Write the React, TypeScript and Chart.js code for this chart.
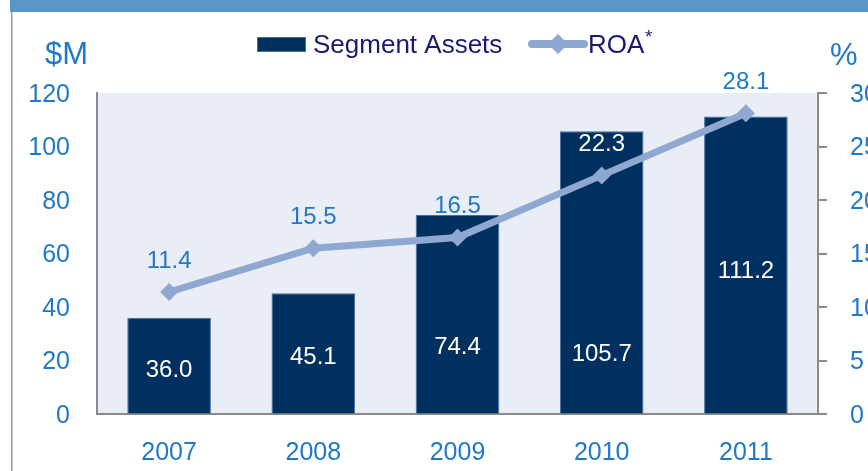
import React, { useEffect, useRef } from "react";
import { Chart, registerables } from "chart.js";

Chart.register(...registerables);

const categories = ["2007", "2008", "2009", "2010", "2011"];
const segmentAssets = [36.0, 45.1, 74.4, 105.7, 111.2];
const roa = [11.4, 15.5, 16.5, 22.3, 28.1];
const leftTicks = [0, 20, 40, 60, 80, 100, 120];
const rightTicks = [0, 5, 10, 15, 20, 25, 30];
// where each bar's value label sits, in $M axis units
const barLabelAnchors = [17, 22, 25.5, 23, 54];

const FONT = "'Liberation Sans', Arial, sans-serif";
const BLUE_TEXT = "#1f78c8";
const NAVY = "#00305f";
const LINE = "#8ea8d2";

const decorPlugin = {
  id: "decor",
  beforeDraw(chart: any) {
    const { ctx, chartArea } = chart;
    ctx.save();
    ctx.fillStyle = "#5a96c6";
    ctx.fillRect(10, 0, chart.width, 12);
    ctx.fillStyle = "#9a9a9a";
    ctx.fillRect(11, 12, 1.5, chart.height);
    ctx.fillStyle = "#e9edf5";
    ctx.fillRect(chartArea.left, chartArea.top, chartArea.right - chartArea.left, chartArea.bottom - chartArea.top);
    ctx.restore();
  },
  afterDraw(chart: any) {
    const { ctx } = chart;
    ctx.save();
    ctx.fillStyle = BLUE_TEXT;
    ctx.font = `31px ${FONT}`;
    ctx.textBaseline = "alphabetic";
    ctx.textAlign = "left";
    ctx.fillText("$M", 45, 64);
    ctx.fillText("%", 830, 65);

    // legend
    ctx.fillStyle = NAVY;
    ctx.fillRect(257, 37, 49, 15);
    ctx.strokeStyle = "#4a6d9a";
    ctx.lineWidth = 1;
    ctx.strokeRect(257.5, 37.5, 48, 14);
    ctx.fillStyle = "#1a1a6e";
    ctx.font = `26px ${FONT}`;
    ctx.textBaseline = "middle";
    ctx.fillText("Segment Assets", 313, 46);
    ctx.strokeStyle = LINE;
    ctx.lineWidth = 8;
    ctx.lineCap = "round";
    ctx.beginPath();
    ctx.moveTo(532, 44);
    ctx.lineTo(584, 44);
    ctx.stroke();
    ctx.fillStyle = LINE;
    ctx.beginPath();
    ctx.moveTo(558, 34);
    ctx.lineTo(568, 44);
    ctx.lineTo(558, 54);
    ctx.lineTo(548, 44);
    ctx.closePath();
    ctx.fill();
    ctx.fillStyle = "#1a1a6e";
    ctx.fillText("ROA", 588, 46);
    ctx.font = `19px ${FONT}`;
    ctx.fillText("*", 645, 38);

    // data labels
    const yL = chart.scales.y;
    const barMeta = chart.getDatasetMeta(1);
    ctx.font = `24px ${FONT}`;
    ctx.textAlign = "center";
    ctx.textBaseline = "middle";
    ctx.fillStyle = "#ffffff";
    barMeta.data.forEach((el: any, i: number) => {
      ctx.fillText(segmentAssets[i].toFixed(1), el.x, yL.getPixelForValue(barLabelAnchors[i]) + 2);
    });
    const lineMeta = chart.getDatasetMeta(0);
    lineMeta.data.forEach((el: any, i: number) => {
      const ly = el.y - 31;
      const barTop = barMeta.data[i].y;
      ctx.fillStyle = ly - 8 > barTop ? "#ffffff" : BLUE_TEXT;
      ctx.fillText(roa[i].toFixed(1), el.x, ly);
    });
    ctx.restore();
  },
};

export default function App() {
  const ref = useRef<HTMLCanvasElement | null>(null);
  useEffect(() => {
    if (!ref.current) return;
    const chart = new Chart(ref.current, {
      type: "bar",
      data: {
        labels: categories,
        datasets: [
          {
            type: "line",
            label: "ROA*",
            data: roa,
            yAxisID: "y1",
            borderColor: LINE,
            backgroundColor: LINE,
            borderWidth: 7,
            pointStyle: "rectRot",
            pointRadius: 9,
            pointBorderWidth: 0,
            pointBackgroundColor: LINE,
            tension: 0,
            order: 0,
          } as any,
          {
            type: "bar",
            label: "Segment Assets",
            data: segmentAssets,
            yAxisID: "y",
            backgroundColor: NAVY,
            borderColor: "#4a6d9a",
            borderWidth: 1,
            barPercentage: 0.58,
            categoryPercentage: 1,
            order: 1,
          },
        ],
      },
      plugins: [decorPlugin],
      options: {
        animation: false,
        responsive: false,
        layout: { padding: { top: 93, left: 0, right: 0, bottom: 0 } },
        plugins: { legend: { display: false }, tooltip: { enabled: false } },
        scales: {
          x: {
            grid: { display: false, drawTicks: false },
            border: { display: true, color: "#8a8a8a", width: 2 },
            ticks: { color: BLUE_TEXT, font: { family: FONT, size: 25 }, padding: 24 },
            afterFit: (s: any) => { s.height = 57; },
          },
          y: {
            position: "left",
            min: 0,
            max: 120,
            afterBuildTicks: (s: any) => { s.ticks = leftTicks.map((v) => ({ value: v })); },
            grid: { display: true, drawOnChartArea: false, drawTicks: false },
            border: { display: true, color: "#8a8a8a", width: 2 },
            ticks: { color: BLUE_TEXT, font: { family: FONT, size: 25 }, padding: 27, labelOffset: 2 },
            afterFit: (s: any) => { s.width = 97; },
          },
          y1: {
            position: "right",
            min: 0,
            max: 30,
            afterBuildTicks: (s: any) => { s.ticks = rightTicks.map((v) => ({ value: v })); },
            grid: { display: true, drawOnChartArea: false, drawTicks: true, tickLength: 9, color: "#8a8a8a", lineWidth: 2 },
            border: { display: true, color: "#8a8a8a", width: 2 },
            ticks: { color: BLUE_TEXT, font: { family: FONT, size: 25 }, padding: 23, labelOffset: 2 },
            afterFit: (s: any) => { s.width = 82; },
          },
        },
      },
    });
    return () => chart.destroy();
  }, []);
  return (
    <div style={{ position: "fixed", left: 0, top: 0, width: 868, height: 471, overflow: "hidden", background: "#fff" }}>
      <canvas ref={ref} width={900} height={471} style={{ display: "block", width: 900, height: 471 }} />
    </div>
  );
}
